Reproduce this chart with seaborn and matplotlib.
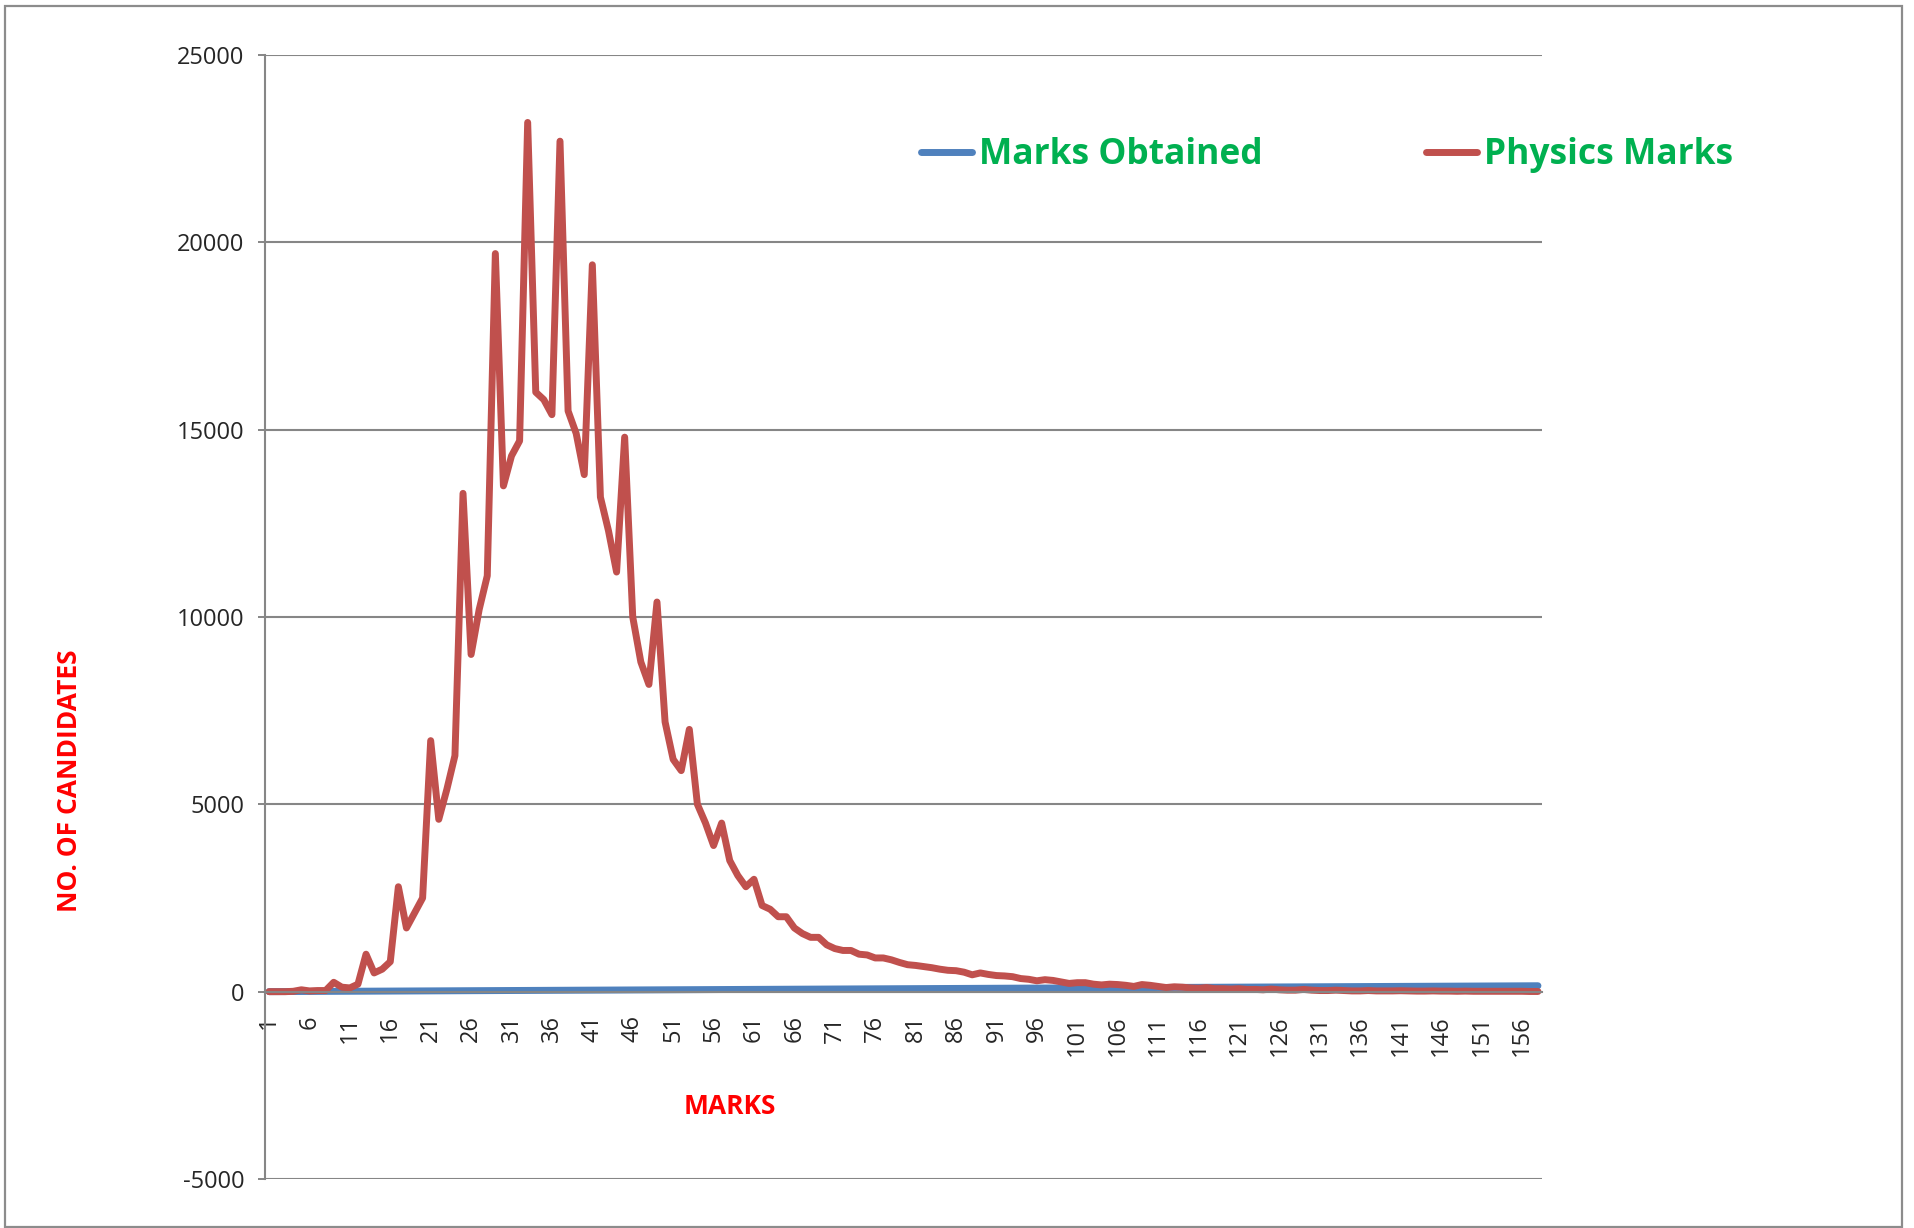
import numpy as np
import pandas as pd
import seaborn as sns
import matplotlib.pyplot as plt
from matplotlib.patches import Rectangle

# marks 1..158 (category axis) and number of candidates per mark
marks = list(range(1, 159))
marks_obtained = list(range(1, 159))
physics_marks = [
    0, 0, 0, 10, 50, 20, 30, 30, 250, 120, 100, 200, 1000, 500, 600, 800,
    2800, 1700, 2100, 2500, 6700, 4600, 5400, 6300, 13300, 9000, 10200, 11100,
    19700, 13500, 14300, 14700, 23200, 16000, 15800, 15400, 22700, 15500, 14900, 13800,
    19400, 13200, 12300, 11200, 14800, 10000, 8800, 8200, 10400, 7200, 6200, 5900,
    7000, 5000, 4500, 3900, 4500, 3500, 3100, 2800, 3000, 2300, 2200, 2000,
    2000, 1700, 1550, 1450, 1450, 1250, 1150, 1100, 1100, 1000, 980, 900,
    900, 850, 780, 720, 700, 670, 640, 600, 570, 560, 520, 450,
    500, 460, 430, 420, 400, 350, 330, 290, 320, 300, 260, 220,
    240, 240, 200, 180, 200, 190, 170, 140, 190, 170, 140, 110,
    130, 120, 100, 90, 110, 80, 80, 70, 80, 60, 60, 50,
    70, 50, 40, 40, 60, 40, 30, 30, 40, 30, 20, 20,
    30, 20, 20, 20, 25, 20, 15, 15, 20, 15, 15, 10,
    15, 10, 10, 10, 10, 10, 10, 10, 5, 5,
]
y_ticks = [-5000, 0, 5000, 10000, 15000, 20000, 25000]

df = pd.DataFrame({"mark": marks, "Marks Obtained": marks_obtained,
                   "Physics Marks": physics_marks})

sns.set_style("white")
plt.rcParams['font.family'] = ['Open Sans', 'DejaVu Sans']

fig = plt.figure(figsize=(19.14, 12.28), dpi=100)
ax = fig.add_axes([265 / 1914, 1 - 1179 / 1228, (1542 - 265) / 1914, (1179 - 55) / 1228])

grid_c = "#868686"
sns.lineplot(data=df, x="mark", y="Marks Obtained", ax=ax, color="#4F81BD",
             linewidth=5, label="Marks Obtained", solid_capstyle="round")
sns.lineplot(data=df, x="mark", y="Physics Marks", ax=ax, color="#C0504D",
             linewidth=5, label="Physics Marks", solid_capstyle="round")

# x axis crosses at y=0 (do this before styling ticks, it resets them)
for s in ["top", "right"]:
    ax.spines[s].set_visible(False)
ax.spines["bottom"].set_position(("data", 0))
ax.spines["bottom"].set_color(grid_c)
ax.spines["bottom"].set_linewidth(1.5)
ax.spines["left"].set_color(grid_c)
ax.spines["left"].set_linewidth(1.5)

ax.set_xlim(0.5, 158.5)
ax.set_ylim(-5000, 25000)
ax.set_yticks(y_ticks)
ax.set_yticklabels([str(v) for v in y_ticks], fontsize=17)
ax.yaxis.grid(True, color=grid_c, linewidth=1.5)
ax.set_axisbelow(True)

ax.set_xticks(marks[::5])
ax.set_xticklabels([str(m) for m in marks[::5]], rotation=90, fontsize=17)
ax.set_xticks([m + 0.5 for m in [0] + marks], minor=True)
ax.tick_params(axis="x", which="major", length=0, pad=17)
ax.tick_params(axis="x", which="minor", length=6, width=1.2, color=grid_c, direction="out")
ax.tick_params(axis="y", length=5, width=1.4, color=grid_c, pad=10, direction="out", left=True)
ax.set_xlabel("")
ax.set_ylabel("")

leg = ax.legend(loc="center left", bbox_to_anchor=(921 / 1914, 1 - 155 / 1228),
                bbox_transform=fig.transFigure, ncol=2, frameon=False,
                handlelength=1.45, handletextpad=0.2, columnspacing=4.6,
                borderpad=0, borderaxespad=0, prop={"size": 25.5, "weight": "bold"})
for t in leg.get_texts():
    t.set_color("#00B050")

fig.text(70 / 1914, 1 - 781 / 1228, "NO. OF CANDIDATES", rotation=90, color="#FF0000",
         fontsize=19, fontweight="bold", ha="center", va="center")
fig.text(730 / 1914, 1 - 1107 / 1228, "MARKS", color="#FF0000",
         fontsize=19, fontweight="bold", ha="center", va="center")

fig.patches.append(Rectangle((5 / 1914, 1 / 1228), 1897 / 1914, 1221 / 1228,
                             transform=fig.transFigure, fill=False,
                             edgecolor="#8C8C8C", linewidth=1.6))

fig.savefig("out.png", dpi=100)
